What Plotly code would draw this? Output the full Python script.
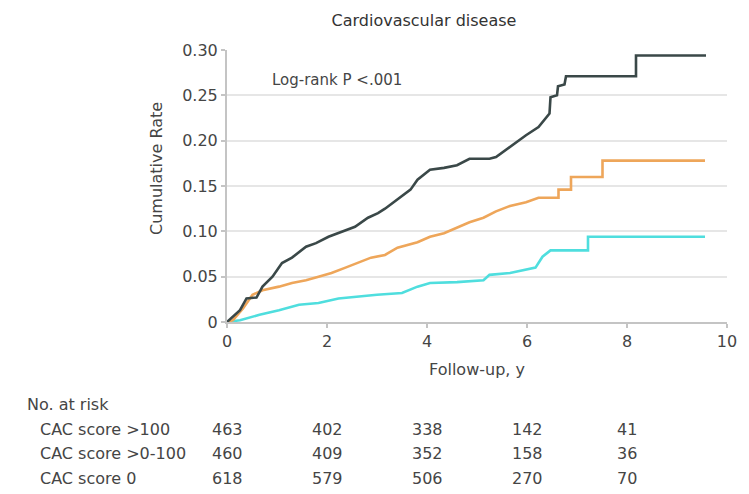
import plotly.graph_objects as go

# ---- data (flat runs and jumps given explicitly) ----
dark_t = [0, 0.26, 0.39, 0.59, 0.71, 0.91, 1.10, 1.30, 1.58, 1.78, 2.03, 2.29, 2.56, 2.82, 3.02, 3.16,
          3.41, 3.67, 3.81, 4.06, 4.34, 4.60, 4.85, 5.25, 5.38, 5.58, 5.78, 5.98, 6.23, 6.37, 6.45,
          6.47, 6.60, 6.62, 6.75, 6.78, 8.18, 8.18, 9.58]
dark_v = [0, 0.013, 0.026, 0.027, 0.039, 0.050, 0.065, 0.071, 0.083, 0.087, 0.094, 0.099, 0.105, 0.115,
          0.120, 0.125, 0.135, 0.146, 0.157, 0.168, 0.170, 0.173, 0.180, 0.180, 0.182, 0.190, 0.197,
          0.206, 0.215, 0.225, 0.230, 0.248, 0.250, 0.260, 0.262, 0.271, 0.271, 0.294, 0.294]

orange_t = [0, 0.12, 0.32, 0.51, 0.71, 1.04, 1.30, 1.58, 1.83, 2.09, 2.37, 2.62, 2.88, 3.16, 3.41,
            3.81, 4.06, 4.34, 4.60, 4.85, 5.13, 5.38, 5.66, 5.98, 6.23, 6.63, 6.63, 6.88, 6.88,
            7.51, 7.51, 9.56]
orange_v = [0, 0.002, 0.015, 0.030, 0.035, 0.039, 0.043, 0.046, 0.050, 0.054, 0.060, 0.065, 0.071,
            0.074, 0.082, 0.088, 0.094, 0.098, 0.104, 0.110, 0.115, 0.122, 0.128, 0.132, 0.137,
            0.137, 0.146, 0.146, 0.160, 0.160, 0.178, 0.178]

cyan_t = [0, 0.26, 0.65, 1.04, 1.44, 1.83, 2.23, 2.60, 3.00, 3.50, 3.81, 4.06, 4.60, 5.13, 5.25,
          5.66, 5.92, 6.17, 6.31, 6.47, 7.22, 7.22, 9.56]
cyan_v = [0, 0.002, 0.008, 0.013, 0.019, 0.021, 0.026, 0.028, 0.030, 0.032, 0.039, 0.043, 0.044,
          0.046, 0.052, 0.054, 0.057, 0.060, 0.072, 0.079, 0.079, 0.094, 0.094]

risk_times = [0, 2, 4, 6, 8]
row_labels = ["CAC score >100", "CAC score >0-100", "CAC score 0"]
risk_gt100 = [463, 402, 338, 142, 41]
risk_0_100 = [460, 409, 352, 158, 36]
risk_zero = [618, 579, 506, 270, 70]

x_ticks = [0, 2, 4, 6, 8, 10]
y_ticks = [0, 0.05, 0.10, 0.15, 0.20, 0.25, 0.30]
y_tick_text = ["0", "0.05", "0.10", "0.15", "0.20", "0.25", "0.30"]

# ---- figure ----
W, H = 749, 494
L, R, T, B = 227, 15, 50, 172
FONT = "DejaVu Sans"
TXT = "#454545"

def py(p):
    return (H - B - p) / (H - T - B)

def px(p):
    return (p - L) / (W - L - R)

fig = go.Figure()
for t, v, c in [(cyan_t, cyan_v, "#4fdede"), (orange_t, orange_v, "#eea65a"), (dark_t, dark_v, "#3a4848")]:
    fig.add_trace(go.Scatter(x=t, y=v, mode="lines", line=dict(color=c, width=2.6, shape="linear"),
                             cliponaxis=False, showlegend=False, hoverinfo="skip"))

fig.update_layout(
    width=W, height=H, margin=dict(l=L, r=R, t=T, b=B),
    paper_bgcolor="white", plot_bgcolor="white",
    font=dict(family=FONT, color=TXT, size=15),
    title=dict(text="Cardiovascular disease", x=424 / W, xref="container", xanchor="center",
               y=1 - 20 / H, yref="container", yanchor="middle",
               font=dict(family=FONT, size=16, color="#333333")),
    showlegend=False,
)
fig.update_xaxes(range=[0, 10], tickvals=x_ticks, showgrid=False, zeroline=False,
                 showline=True, linecolor="#c4c4c4", linewidth=2,
                 ticks="outside", ticklen=4, tickcolor="#c4c4c4", tickwidth=1.5,
                 tickfont=dict(size=16, color=TXT),
                 title=dict(text="Follow-up, y", font=dict(size=16, color=TXT), standoff=14))
fig.update_yaxes(range=[0, 0.30], tickvals=y_ticks, ticktext=y_tick_text,
                 showgrid=True, gridcolor="#e6e6e6", gridwidth=2, zeroline=False,
                 showline=True, linecolor="#c4c4c4", linewidth=2,
                 ticks="outside", ticklen=4, tickcolor="#c4c4c4", tickwidth=1.5,
                 tickfont=dict(size=16, color=TXT))

# y-axis title placed as rotated annotation
fig.add_annotation(x=px(155), xref="paper", y=py(168), yref="paper", text="Cumulative Rate",
                   textangle=-90, showarrow=False, xanchor="center", yanchor="middle",
                   font=dict(size=16, color=TXT))

fig.add_annotation(x=0.85, y=0.267, xref="x", yref="y", text="Log-rank P <.001", showarrow=False,
                   xanchor="left", yanchor="middle", font=dict(size=15, color=TXT))

# risk table
fig.add_annotation(x=px(22), xref="paper", y=py(404), yref="paper", text="No. at risk",
                   showarrow=False, xanchor="left", yanchor="middle",
                   font=dict(size=16, color=TXT))

rows = [risk_gt100, risk_0_100, risk_zero]
row_y = [429, 453, 478]
for lab, vals, yy in zip(row_labels, rows, row_y):
    fig.add_annotation(x=px(35), xref="paper", y=py(yy), yref="paper", text=lab, showarrow=False,
                       xanchor="left", yanchor="middle", font=dict(size=16, color=TXT))
    for t, n in zip(risk_times, vals):
        fig.add_annotation(x=t, xref="x", y=py(yy), yref="paper", text=str(n), showarrow=False,
                           xanchor="center", yanchor="middle", font=dict(size=16, color=TXT))

fig.write_html("out.html")
